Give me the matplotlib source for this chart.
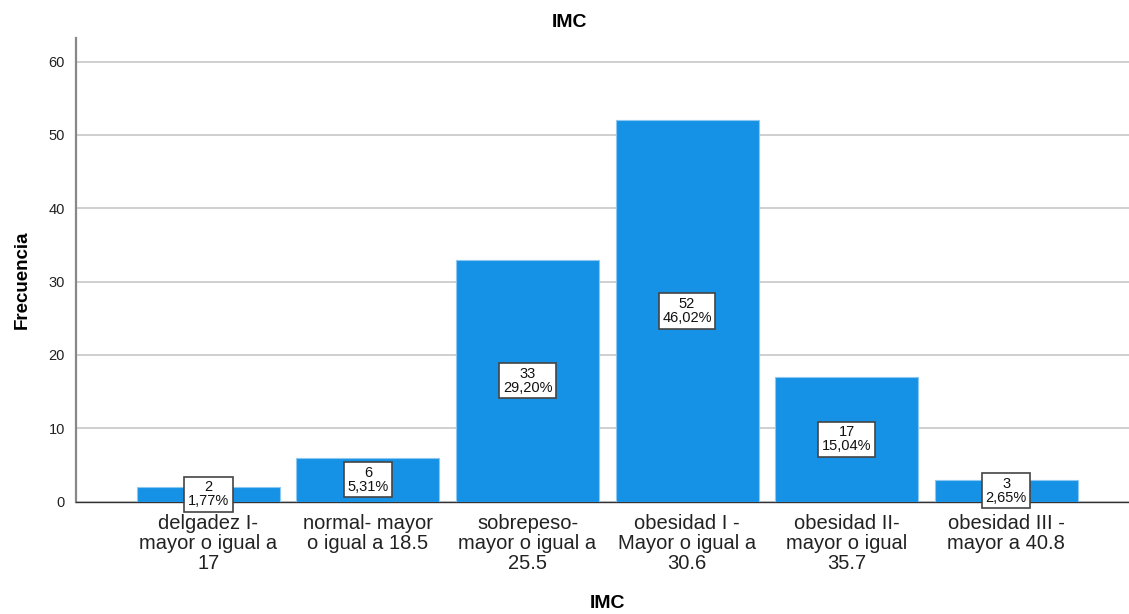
import numpy as np
import matplotlib
matplotlib.use("Agg")
import matplotlib.pyplot as plt

plt.rcParams['font.family'] = ['Liberation Sans', 'DejaVu Sans']

# IMC frequency data
categorias = [
    "delgadez I-\nmayor o igual a\n17",
    "normal- mayor\no igual a 18.5",
    "sobrepeso-\nmayor o igual a\n25.5",
    "obesidad I -\nMayor o igual a\n30.6",
    "obesidad II-\nmayor o igual\n35.7",
    "obesidad III -\nmayor a 40.8",
]
frecuencia = [2, 6, 33, 52, 17, 3]
porcentaje = ["1,77%", "5,31%", "29,20%", "46,02%", "15,04%", "2,65%"]
yticks = [0, 10, 20, 30, 40, 50, 60]

fig = plt.figure(figsize=(11.29, 6.14), dpi=100)
ax = fig.add_axes([0.0673, 0.1832, 0.9327, 0.7548])

x = np.arange(len(categorias))
ax.bar(x, frecuencia, width=0.896, color='#1591e5', edgecolor='#8cc8f2',
       linewidth=0.8, zorder=3)

for xi, f, p in zip(x, frecuencia, porcentaje):
    ax.text(xi, f / 2, f"{f}\n{p}", ha='center', va='center', fontsize=10.5,
            linespacing=1.0, color='#111111', zorder=5,
            bbox=dict(boxstyle='square,pad=0.25', fc='white', ec='#444444', lw=1.2))

ax.set_xlim(-0.83, 5.77)
ax.set_ylim(0, 63.2)
ax.set_yticks(yticks)
ax.yaxis.grid(True, color='#cfcfcf', linewidth=1.4, zorder=0)
ax.set_axisbelow(True)

ax.set_xticks(x)
ax.set_xticklabels(categorias, fontsize=14.5, color='#222222', linespacing=1.07)
ax.tick_params(axis='x', length=0, pad=9)
ax.tick_params(axis='y', length=0, pad=8, labelsize=10.5, labelcolor='#222222')

for s in ['top', 'right']:
    ax.spines[s].set_visible(False)
ax.spines['left'].set_color('#888888')
ax.spines['left'].set_linewidth(1.6)
ax.spines['bottom'].set_color('#333333')
ax.spines['bottom'].set_linewidth(1.0)

fig.text(0.504, 0.964, "IMC", ha='center', va='center', fontsize=14, fontweight='bold')
fig.text(0.538, 0.017, "IMC", ha='center', va='center', fontsize=14, fontweight='bold')
fig.text(0.02, 0.545, "Frecuencia", ha='center', va='center', rotation=90,
         fontsize=13.5, fontweight='bold')

fig.savefig("out.png", dpi=100)
